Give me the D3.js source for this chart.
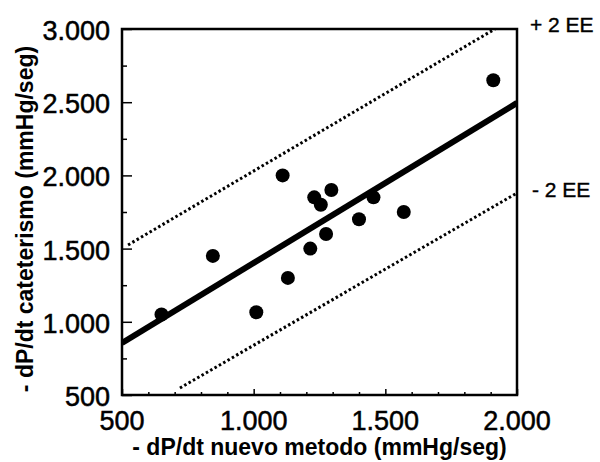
<!DOCTYPE html>
<html>
<head>
<meta charset="utf-8">
<script src="https://cdn.jsdelivr.net/npm/d3@7"></script>
<style>
  html, body { margin: 0; padding: 0; background: #fff; }
  svg { display: block; font-family: "Liberation Sans", Arial, Helvetica, sans-serif; }
</style>
</head>
<body>
<svg id="chart" width="600" height="462"></svg>
<script>
// ---- Data ----
const xValues = [1110, 1230, 1255, 1295, 1455, 1570, 1400, 1275, 1215, 845, 1130, 1010, 650, 1910];
const yValues = [2000, 1850, 1800, 1900, 1850, 1750, 1700, 1600, 1500, 1450, 1300, 1065, 1050, 2650];
const regressionX = [500, 2000];
const regressionY = [855, 2495];
const upperX = [523, 1916];
const upperY = [1525, 3000];
const lowerX = [720, 2000];
const lowerY = [548, 1880];
const xTicks = [500, 1000, 1500, 2000];
const yTicks = [500, 1000, 1500, 2000, 2500, 3000];
const xTitle = "- dP/dt nuevo metodo (mmHg/seg)";
const yTitle = "- dP/dt cateterismo (mmHg/seg)";
const upperLabel = "+ 2 EE";
const lowerLabel = "- 2 EE";

// ---- Layout ----
const svg = d3.select("#chart");
const mL = 122, mR = 517, mT = 29, mB = 395;
const x = d3.scaleLinear().domain([500, 2000]).range([mL, mR]);
const y = d3.scaleLinear().domain([500, 3000]).range([mB, mT]);
const loc = d3.formatLocale({decimal: ",", thousands: ".", grouping: [3], currency: ["", ""]});
const fmt = loc.format(",");

// clip
svg.append("defs").append("clipPath").attr("id", "clip")
  .append("rect").attr("x", mL).attr("y", mT).attr("width", mR - mL).attr("height", mB - mT);

// frame
svg.append("rect").attr("x", mL).attr("y", mT).attr("width", mR - mL).attr("height", mB - mT)
  .attr("fill", "none").attr("stroke", "#000").attr("stroke-width", 2.5);

// Axes (inward ticks)
const xMinor = d3.range(600, 2000, 100).filter(v => v % 500 !== 0);
const yMinor = d3.range(750, 3000, 500);

const xAxisG = svg.append("g").attr("transform", `translate(0,${mB})`)
  .call(d3.axisTop(x).tickValues(xTicks).tickSize(6).tickFormat(""));
xAxisG.select(".domain").remove();
const xMinorG = svg.append("g").attr("transform", `translate(0,${mB})`)
  .call(d3.axisTop(x).tickValues(xMinor).tickSize(3).tickFormat(""));
xMinorG.select(".domain").remove();

const yAxisG = svg.append("g").attr("transform", `translate(${mL},0)`)
  .call(d3.axisRight(y).tickValues(yTicks).tickSize(10).tickFormat(""));
yAxisG.select(".domain").remove();
const yMinorG = svg.append("g").attr("transform", `translate(${mL},0)`)
  .call(d3.axisRight(y).tickValues(yMinor).tickSize(5).tickFormat(""));
yMinorG.select(".domain").remove();
svg.selectAll(".tick line").attr("stroke", "#000").attr("stroke-width", 1.5);

// tick labels
svg.append("g").selectAll("text").data(xTicks).join("text")
  .attr("x", d => x(d)).attr("y", 430)
  .attr("text-anchor", "middle").attr("font-size", 27).attr("fill", "#000")
  .attr("stroke", "#000").attr("stroke-width", 0.5)
  .text(d => fmt(d));
svg.append("g").selectAll("text").data(yTicks).join("text")
  .attr("x", 110).attr("y", d => y(d) + 11)
  .attr("text-anchor", "end").attr("font-size", 27).attr("fill", "#000")
  .attr("stroke", "#000").attr("stroke-width", 0.5)
  .text(d => fmt(d));

// axis titles
svg.append("text").attr("x", (mL + mR) / 2).attr("y", 455)
  .attr("text-anchor", "middle").attr("font-size", 23).attr("font-weight", "bold")
  .text(xTitle);
svg.append("text").attr("transform", `translate(33,219) rotate(-90)`)
  .attr("text-anchor", "middle").attr("font-size", 23).attr("font-weight", "bold")
  .text(yTitle);

// lines
const plot = svg.append("g").attr("clip-path", "url(#clip)");
const line = d3.line().x(d => x(d[0])).y(d => y(d[1]));
plot.append("path").datum(d3.zip(upperX, upperY)).attr("d", line)
  .attr("fill", "none").attr("stroke", "#000").attr("stroke-width", 3).attr("stroke-dasharray", "2.5,2.5");
plot.append("path").datum(d3.zip(lowerX, lowerY)).attr("d", line)
  .attr("fill", "none").attr("stroke", "#000").attr("stroke-width", 3).attr("stroke-dasharray", "2.5,2.5");
plot.append("path").datum(d3.zip(regressionX, regressionY)).attr("d", line)
  .attr("fill", "none").attr("stroke", "#000").attr("stroke-width", 6);

// points
svg.append("g").selectAll("circle").data(d3.zip(xValues, yValues)).join("circle")
  .attr("cx", d => x(d[0])).attr("cy", d => y(d[1])).attr("r", 7).attr("fill", "#000");

// EE labels
svg.append("text").attr("x", 530).attr("y", 32).attr("font-size", 21)
  .attr("stroke", "#000").attr("stroke-width", 0.4).text(upperLabel);
svg.append("text").attr("x", 532).attr("y", 197).attr("font-size", 21)
  .attr("stroke", "#000").attr("stroke-width", 0.4).text(lowerLabel);
</script>
</body>
</html>
